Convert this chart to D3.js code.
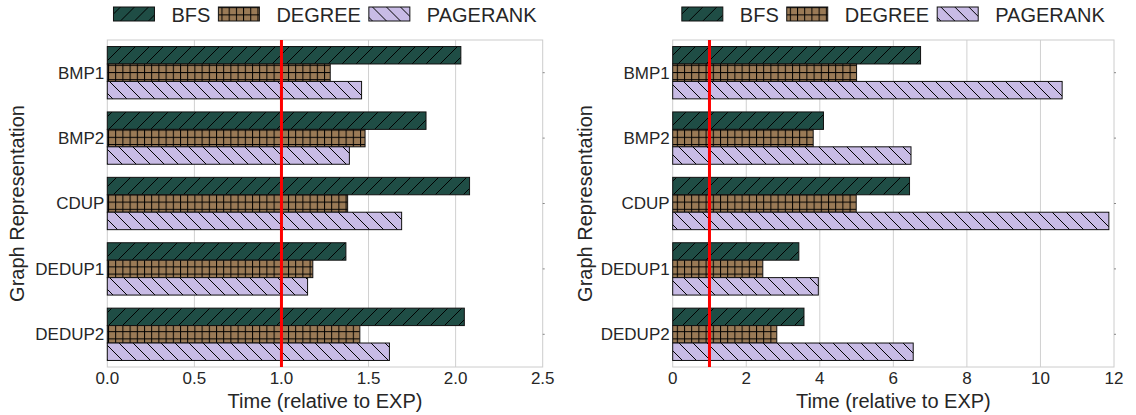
<!DOCTYPE html>
<html>
<head>
<meta charset="utf-8">
<script src="https://cdn.jsdelivr.net/npm/d3@7"></script>
<style>
  body { margin: 0; background: #fff; }
  text { font-family: "Liberation Sans", Arial, sans-serif; fill: #262626; }
</style>
</head>
<body>
<div id="chart"></div>
<script>
// Données
const categories = ["BMP1", "BMP2", "CDUP", "DEDUP1", "DEDUP2"];
const seriesNames = ["BFS", "DEGREE", "PAGERANK"];
const leftBFS = [2.03, 1.83, 2.08, 1.37, 2.05];
const leftDegree = [1.28, 1.48, 1.38, 1.18, 1.45];
const leftPagerank = [1.46, 1.39, 1.69, 1.15, 1.62];
const rightBFS = [6.74, 4.10, 6.44, 3.43, 3.57];
const rightDegree = [5.00, 3.82, 4.99, 2.45, 2.83];
const rightPagerank = [10.59, 6.48, 11.86, 3.96, 6.54];
const leftTicks = [0, 0.5, 1, 1.5, 2, 2.5];
const rightTicks = [0, 2, 4, 6, 8, 10, 12];
const referenceValue = 1;

const width = 1136;
const height = 415;

const colors = { BFS: "#1f4d45", DEGREE: "#9a7a56", PAGERANK: "#c8bbe5" };
const hatchIds = { BFS: "hatch-bfs", DEGREE: "hatch-degree", PAGERANK: "hatch-pagerank" };

const svg = d3.select("#chart")
    .append("svg")
    .attr("width", width)
    .attr("height", height);

// Motifs de hachures
const defs = svg.append("defs");

function diagPattern(id, color, forward) {
    const s = 14;
    const p = defs.append("pattern")
        .attr("id", id)
        .attr("patternUnits", "userSpaceOnUse")
        .attr("width", s)
        .attr("height", s);
    p.append("rect").attr("width", s).attr("height", s).attr("fill", color);
    const segs = forward
        ? [[0, s, s, 0], [-2, 2, 2, -2], [s - 2, s + 2, s + 2, s - 2]]
        : [[0, 0, s, s], [-2, s - 2, 2, s + 2], [s - 2, -2, s + 2, 2]];
    segs.forEach(function(d) {
        p.append("line")
            .attr("x1", d[0]).attr("y1", d[1]).attr("x2", d[2]).attr("y2", d[3])
            .attr("stroke", "#000").attr("stroke-width", 1);
    });
}
diagPattern(hatchIds.BFS, colors.BFS, true);
diagPattern(hatchIds.PAGERANK, colors.PAGERANK, false);

const grid = defs.append("pattern")
    .attr("id", hatchIds.DEGREE)
    .attr("patternUnits", "userSpaceOnUse")
    .attr("width", 7.2)
    .attr("height", 7.2);
grid.append("rect").attr("width", 7.2).attr("height", 7.2).attr("fill", colors.DEGREE);
grid.append("line").attr("x1", 0.5).attr("y1", 0).attr("x2", 0.5).attr("y2", 7.2)
    .attr("stroke", "#000").attr("stroke-width", 1);
grid.append("line").attr("x1", 0).attr("y1", 0.5).attr("x2", 7.2).attr("y2", 0.5)
    .attr("stroke", "#000").attr("stroke-width", 1);

// Un panneau = un graphique à barres horizontales
function drawPanel(opts) {
    const g = svg.append("g");
    const x = d3.scaleLinear().domain(opts.domain).range([opts.x0, opts.x1]);
    const y = d3.scaleBand().domain(categories).range([40, 367])
        .paddingInner(0.2).paddingOuter(0.1);
    const ySub = d3.scaleBand().domain(seriesNames).range([0, y.bandwidth()]);

    // grille
    g.selectAll(".grid")
        .data(opts.ticks.slice(1, -1))
        .enter().append("line")
        .attr("x1", d => x(d)).attr("x2", d => x(d))
        .attr("y1", 40).attr("y2", 367)
        .attr("stroke", "#d0d0d0").attr("stroke-width", 1);

    // cadre
    g.append("rect")
        .attr("x", opts.x0).attr("y", 40)
        .attr("width", opts.x1 - opts.x0).attr("height", 327)
        .attr("fill", "none").attr("stroke", "#cccccc").attr("stroke-width", 1);

    // petits repères à droite
    g.selectAll(".rtick")
        .data(categories)
        .enter().append("line")
        .attr("x1", opts.x1).attr("x2", opts.x1 + 2)
        .attr("y1", d => y(d) + y.bandwidth() / 2)
        .attr("y2", d => y(d) + y.bandwidth() / 2)
        .attr("stroke", "#888").attr("stroke-width", 1);

    // barres
    const rows = [];
    categories.forEach(function(c, i) {
        seriesNames.forEach(function(s) {
            rows.push({ cat: c, series: s, value: opts.values[s][i] });
        });
    });
    g.selectAll(".bar")
        .data(rows)
        .enter().append("rect")
        .attr("x", x(0))
        .attr("y", d => y(d.cat) + ySub(d.series))
        .attr("width", d => x(d.value) - x(0))
        .attr("height", ySub.bandwidth())
        .attr("fill", d => "url(#" + hatchIds[d.series] + ")")
        .attr("stroke", "#111")
        .attr("stroke-width", 1);

    // ligne de référence
    g.append("line")
        .attr("x1", x(referenceValue)).attr("x2", x(referenceValue))
        .attr("y1", 40).attr("y2", 367)
        .attr("stroke", "#ff0000").attr("stroke-width", 3);

    // étiquettes des axes
    g.selectAll(".xt")
        .data(opts.ticks)
        .enter().append("text")
        .attr("x", d => x(d))
        .attr("y", 384)
        .attr("text-anchor", "middle")
        .style("font-size", "17px")
        .text(d => opts.fmt(d));

    g.selectAll(".yt")
        .data(categories)
        .enter().append("text")
        .attr("x", opts.x0 - 3)
        .attr("y", d => y(d) + y.bandwidth() / 2)
        .attr("dy", "0.35em")
        .attr("text-anchor", "end")
        .style("font-size", "17px")
        .text(d => d);

    g.append("text")
        .attr("x", (opts.x0 + opts.x1) / 2)
        .attr("y", 408)
        .attr("text-anchor", "middle")
        .style("font-size", "20px")
        .text("Time (relative to EXP)");

    g.append("text")
        .attr("transform", "translate(" + opts.yTitleX + ",203.5) rotate(-90)")
        .attr("text-anchor", "middle")
        .attr("dy", "0.35em")
        .style("font-size", "20px")
        .text("Graph Representation");

    // légende
    const leg = g.append("g");
    let cx = 0;
    seriesNames.forEach(function(s) {
        leg.append("rect")
            .attr("x", cx).attr("y", 7)
            .attr("width", 41).attr("height", 14)
            .attr("fill", "url(#" + hatchIds[s] + ")")
            .attr("stroke", "#111").attr("stroke-width", 1);
        const t = leg.append("text")
            .attr("x", cx + 58).attr("y", 21.5)
            .style("font-size", "20px")
            .text(s);
        cx += 58 + t.node().getComputedTextLength() + 8;
    });
    const legW = cx - 8;
    leg.attr("transform", "translate(" + ((opts.x0 + opts.x1) / 2 - legW / 2) + ",0)");
}

drawPanel({
    domain: [0, 2.5], x0: 107.3, x1: 542.7, ticks: leftTicks,
    fmt: d3.format(".1f"), yTitleX: 17,
    values: { BFS: leftBFS, DEGREE: leftDegree, PAGERANK: leftPagerank }
});

drawPanel({
    domain: [0, 12], x0: 672.7, x1: 1114, ticks: rightTicks,
    fmt: d3.format("d"), yTitleX: 585,
    values: { BFS: rightBFS, DEGREE: rightDegree, PAGERANK: rightPagerank }
});
</script>
</body>
</html>
